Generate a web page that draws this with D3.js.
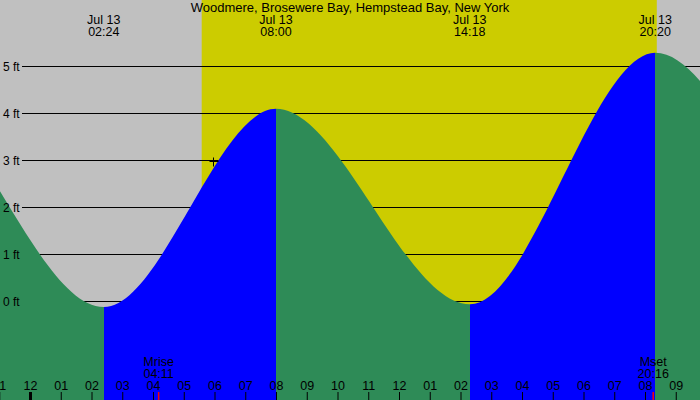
<!DOCTYPE html>
<html><head><meta charset="utf-8">
<script src="https://cdn.jsdelivr.net/npm/d3@7"></script>
<style>html,body{margin:0;padding:0;background:#c0c0c0;overflow:hidden}</style>
</head><body><svg id="c" width="700" height="400"></svg>
<script>
// ---- data ----
const title = "Woodmere, Brosewere Bay, Hempstead Bay, New York";
const extremeDates = ["Jul 12", "Jul 12", "Jul 13", "Jul 13", "Jul 13", "Jul 13", "Jul 14", "Jul 14"];
const extremeDayOffset = [-1, -1, 0, 0, 0, 0, 1, 1];
const extremeTimes = ["13:40", "19:50", "02:24", "08:00", "14:18", "20:20", "03:18", "09:30"];
const extremeFeet = [-0.1, 4.6, -0.13, 4.09, -0.07, 5.28, -0.05, 4.3];
const sunTimes = ["05:35", "20:23"];          // sunrise, sunset
const moonEvents = ["Mrise", "Mset"];
const moonTimes = ["04:11", "20:16"];
const feetTicks = [0, 1, 2, 3, 4, 5];
const hourTicks = [-1,0,1,2,3,4,5,6,7,8,9,10,11,12,13,14,15,16,17,18,19,20,21];
const hourLabels = ["11","12","01","02","03","04","05","06","07","08","09","10","11","12","01","02","03","04","05","06","07","08","09"];
const markerTime = "05:58";
const markerFeet = 2.97;

// ---- setup ----
const W = 700, H = 400;
const FONT = "Liberation Sans";
const FS = 12.5;
const toHours = (s, off = 0) => { const [h, m] = s.split(":").map(Number); return off * 24 + h + m / 60; };
const x = d3.scaleLinear().domain([0, 8]).range([30, 276]);
const y = d3.scaleLinear().domain([0, 5]).range([301, 66]);

const svg = d3.select("#c");
svg.append("rect").attr("width", W).attr("height", H).attr("fill", "#c0c0c0");
svg.append("rect")
  .attr("x", x(toHours(sunTimes[0]))).attr("y", 0)
  .attr("width", x(toHours(sunTimes[1])) - x(toHours(sunTimes[0]))).attr("height", H)
  .attr("fill", "#cccc00");

// grid lines (beneath the tide fill)
svg.append("g").selectAll("line").data(feetTicks).join("line")
  .attr("x1", 22).attr("x2", W)
  .attr("y1", d => Math.round(y(d)) + 0.5).attr("y2", d => Math.round(y(d)) + 0.5)
  .attr("stroke", "#000").attr("stroke-width", 1);

// tide area
const pts = extremeTimes.map((t, i) => ({ h: toHours(t, extremeDayOffset[i]), f: extremeFeet[i], i }));
const area = d3.area().x(d => x(d.h)).y0(H).y1(d => y(d.f)).curve(d3.curveMonotoneX);
const defs = svg.append("defs");
for (let i = 0; i < pts.length - 1; i++) {
  const x0 = x(pts[i].h), x1 = x(pts[i + 1].h);
  defs.append("clipPath").attr("id", "seg" + i)
    .append("rect").attr("x", Math.round(x0)).attr("y", 0).attr("width", Math.round(x1) - Math.round(x0)).attr("height", H);
  svg.append("path").datum(pts).attr("d", area)
    .attr("clip-path", `url(#seg${i})`)
    .attr("fill", pts[i + 1].f > pts[i].f ? "#0000ff" : "#2e8b57");
}

// feet labels (on top of fill)
svg.append("g").selectAll("text").data(feetTicks).join("text")
  .attr("x", 3).attr("y", d => y(d) + 4.5)
  .attr("font-family", FONT).attr("font-size", 12).attr("fill", "#000")
  .text(d => d + " ft");

// bottom hour axis
const axis = d3.axisTop(x).tickValues(hourTicks).tickSize(8).tickPadding(2.5)
  .tickFormat((d, i) => hourLabels[i]);
const ax = svg.append("g").attr("transform", `translate(0,${H})`).call(axis);
ax.select(".domain").remove();
ax.selectAll("text").attr("font-family", FONT).attr("font-size", FS).attr("fill", "#000");
ax.selectAll(".tick line").attr("stroke", "#000").attr("stroke-width", d => d === 0 ? 3 : 1);

// moon events
moonEvents.forEach((ev, i) => {
  const mx = x(toHours(moonTimes[i]));
  svg.append("text").attr("x", mx).attr("y", 366).attr("text-anchor", "middle")
    .attr("font-family", FONT).attr("font-size", FS).text(ev);
  svg.append("text").attr("x", mx).attr("y", 377.5).attr("text-anchor", "middle")
    .attr("font-family", FONT).attr("font-size", FS).text(moonTimes[i]);
  svg.append("line").attr("x1", mx).attr("x2", mx).attr("y1", 392).attr("y2", H)
    .attr("stroke", "#ff0000").attr("stroke-width", 1.5);
});

// extreme labels at top (only those inside the view)
pts.filter(p => x(p.h) > 0 && x(p.h) < W).forEach(p => {
  const px = x(p.h);
  svg.append("text").attr("x", px).attr("y", 23.5).attr("text-anchor", "middle")
    .attr("font-family", FONT).attr("font-size", FS).text(extremeDates[p.i]);
  svg.append("text").attr("x", px).attr("y", 35.5).attr("text-anchor", "middle")
    .attr("font-family", FONT).attr("font-size", FS).text(extremeTimes[p.i]);
});

// marker
const mkx = Math.round(x(toHours(markerTime))) + 0.5, mky = Math.round(y(markerFeet)) + 0.5;
svg.append("path").attr("d", `M${mkx - 4},${mky}H${mkx + 5}M${mkx},${mky - 4}V${mky + 5}`)
  .attr("stroke", "#000").attr("stroke-width", 1).attr("fill", "none");

// title
svg.append("text").attr("x", W / 2).attr("y", 11.5).attr("text-anchor", "middle")
  .attr("font-family", FONT).attr("font-size", 13).text(title);
</script></body></html>
